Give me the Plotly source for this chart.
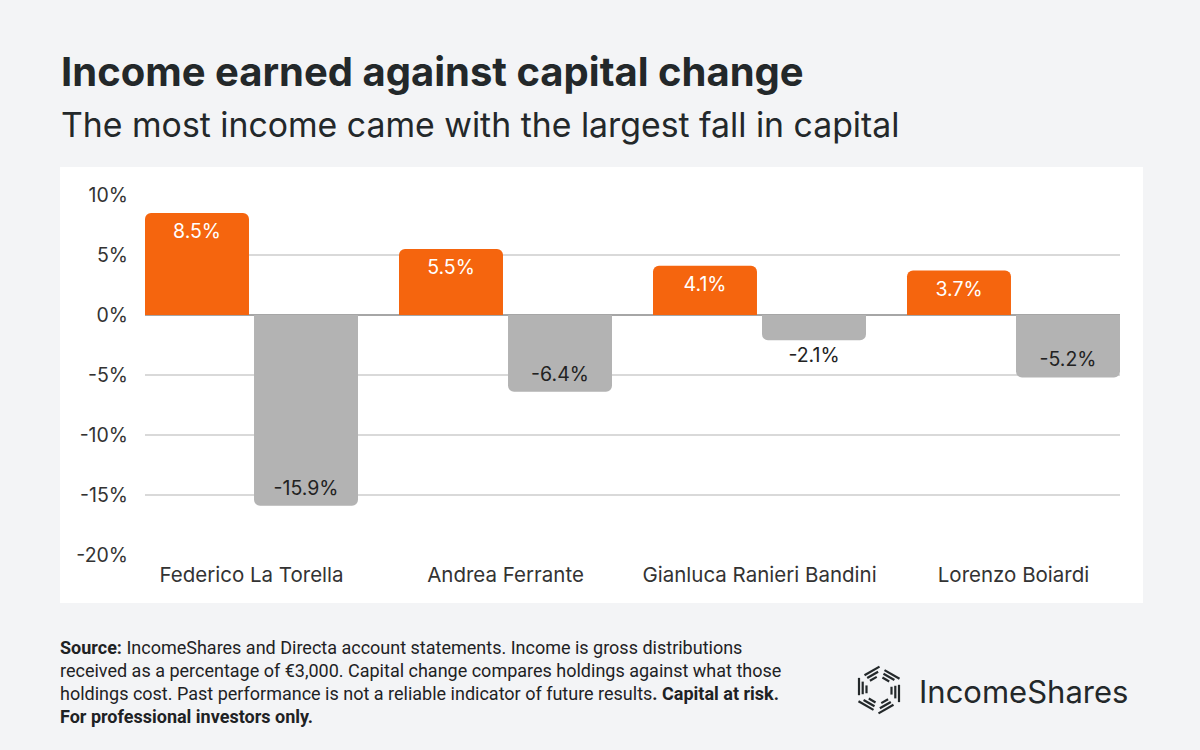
import math
import plotly.graph_objects as go

# ---- data ----
investors = ["Federico La Torella", "Andrea Ferrante", "Gianluca Ranieri Bandini", "Lorenzo Boiardi"]
income = [8.5, 5.5, 4.1, 3.7]
capital_change = [-15.9, -6.4, -2.1, -5.2]
y_ticks = [10, 5, 0, -5, -10, -15, -20]
y_tick_labels = ["10%", "5%", "0%", "-5%", "-10%", "-15%", "-20%"]

W, H = 1200, 750
ML, MR, MT, MB = 145, 80, 195, 195
PW, PH = W - ML - MR, H - MT - MB
ORANGE = "#F5650E"
GREY = "#B3B3B3"
BG = "#F3F4F6"
DARK = "#23282A"
FONT = "Inter, Roboto, sans-serif"

def px(x):
    return (x - ML) / PW

def py(y):
    return (H - MB - y) / PH

half = 0.4193
bw = 0.4094

fig = go.Figure()
fig.add_trace(go.Bar(
    x=investors, y=income, name="Income",
    marker=dict(color=ORANGE, cornerradius=6, line=dict(width=0)),
    offset=-half, width=bw,
    texttemplate="%{y:.1f}%", textposition="inside", insidetextanchor="end",
    insidetextfont=dict(color="white", size=19.5, family=FONT),
    textangle=0, cliponaxis=False, hoverinfo="skip",
))
cap_pos = ["inside" if v < -3 else "outside" for v in capital_change]
fig.add_trace(go.Bar(
    x=investors, y=capital_change, name="Capital change",
    marker=dict(color=GREY, cornerradius=6, line=dict(width=0)),
    offset=half - bw, width=bw,
    texttemplate="%{y:.1f}%", textposition=cap_pos, insidetextanchor="end",
    insidetextfont=dict(color="#222222", size=19.5, family=FONT),
    outsidetextfont=dict(color="#222222", size=19.5, family=FONT),
    textangle=0, cliponaxis=False, hoverinfo="skip",
))

shapes = [
    dict(type="rect", xref="paper", yref="paper", x0=px(60), x1=px(1143), y0=py(603), y1=py(167),
         fillcolor="white", line=dict(width=0), layer="below"),
]

# logo icon: hexagonal pinwheel of hatched strokes
cx, cy = 879, 690
for k in range(6):
    th = math.radians(60 * k + 180)
    nx, ny = math.cos(th), math.sin(th)          # radial normal
    tx, ty = -ny, nx                              # tangent
    for j, d in enumerate([12.5, 16.3, 20]):
        h = d / math.sqrt(3)
        t0, t1 = -0.45 * h, 1.05 * h - (2 - j) * 1.5
        x0 = cx + nx * d + tx * t0
        y0 = cy + ny * d + ty * t0
        x1 = cx + nx * d + tx * t1
        y1 = cy + ny * d + ty * t1
        shapes.append(dict(type="line", xref="paper", yref="paper",
                           x0=px(x0), y0=py(y0), x1=px(x1), y1=py(y1),
                           line=dict(color=DARK, width=2.2)))

annotations = [
    dict(text="<b>Income earned against capital change</b>", xref="paper", yref="paper",
         x=px(59), y=py(45), xanchor="left", yanchor="top", showarrow=False,
         font=dict(family=FONT, size=40, color=DARK)),
    dict(text="The most income came with the largest fall in capital", xref="paper", yref="paper",
         x=px(59), y=py(102), xanchor="left", yanchor="top", showarrow=False,
         font=dict(family=FONT, size=33.8, color=DARK)),
    dict(text="IncomeShares", xref="paper", yref="paper",
         x=px(917), y=py(691), xanchor="left", yanchor="middle", showarrow=False,
         font=dict(family=FONT, size=31, color=DARK)),
]

footer_lines = [
    "<b>Source:</b> IncomeShares and Directa account statements. Income is gross distributions",
    "received as a percentage of €3,000. Capital change compares holdings against what those",
    "holdings cost. Past performance is not a reliable indicator of future results<b>. Capital at risk.</b>",
    "<b>For professional investors only.</b>",
]
for i, line in enumerate(footer_lines):
    annotations.append(dict(text=line, xref="paper", yref="paper",
                            x=px(58), y=py(647 + 23 * i), xanchor="left", yanchor="middle",
                            showarrow=False,
                            font=dict(family="Roboto, sans-serif", size=18, color="#1E2224")))

fig.update_layout(
    width=W, height=H,
    margin=dict(l=ML, r=MR, t=MT, b=MB),
    paper_bgcolor=BG, plot_bgcolor="white",
    barmode="overlay", showlegend=False,
    font=dict(family=FONT, color="#333333"),
    shapes=shapes, annotations=annotations,
    xaxis=dict(range=[-half, len(investors) - 1 + half], showgrid=False, showline=False,
               zeroline=False, ticks="", tickfont=dict(size=20.5, color="#333333"),
               ticklabelstandoff=5, fixedrange=True),
    yaxis=dict(range=[-20, 10], tickvals=y_ticks, ticktext=y_tick_labels,
               showgrid=True, gridcolor="#D9D9D9", gridwidth=1.5,
               zeroline=True, zerolinecolor="#A6A6A6", zerolinewidth=2,
               showline=False, ticks="", tickfont=dict(size=19.5, color="#333333"),
               ticklabelstandoff=16, fixedrange=True),
)

fig.write_html("out.html", config={"displayModeBar": False})

# remove default page margin so the figure sits at the window's top-left corner
with open("out.html", encoding="utf-8") as f:
    html = f.read()
html = html.replace("<head>", "<head><style>html,body{margin:0;padding:0;background:#F3F4F6;}</style>", 1)
with open("out.html", "w", encoding="utf-8") as f:
    f.write(html)
